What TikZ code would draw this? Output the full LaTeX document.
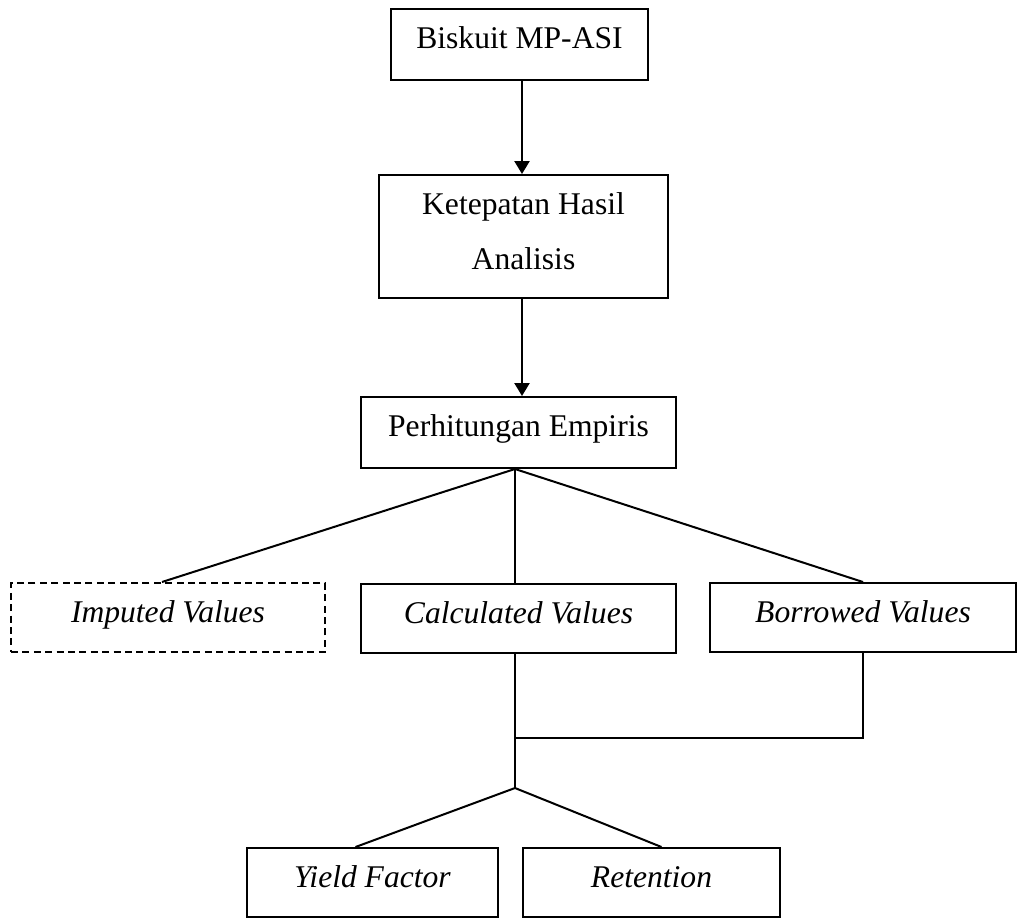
\documentclass[tikz,border=0pt]{standalone}
\usepackage{fontspec}
\setmainfont{Liberation Serif}
\usetikzlibrary{arrows.meta,positioning}

\begin{document}
\begin{tikzpicture}[x=0.5pt,y=-0.5pt,line width=1pt,
      font=\fontsize{15.8}{27.5}\selectfont,
      box/.style={draw,anchor=north,inner sep=0pt,align=center,text height=19.5pt,text depth=16pt},
      dbox/.style={box,dash pattern=on 3.5pt off 2.2pt},
      flow/.style={-{Triangle[length=6.5pt,width=7.5pt]},line width=1.2pt}]
    \useasboundingbox (0,0) rectangle (1017,918);
    \node[box,minimum width=128.5pt] (bis) at (519.5,8) {Biskuit MP-ASI};
    \node[box,minimum width=144.5pt,text height=47pt,text depth=14.5pt] (tep) at (523.5,174) {Ketepatan Hasil\\ Analisis};
    \node[box,minimum width=157.5pt] (emp) at (518.5,396) {Perhitungan Empiris};
    \node[dbox,minimum width=157pt,text depth=15pt] (imp) at (168,582) {\itshape Imputed Values};
    \node[box,minimum width=157.5pt,text depth=15pt] (cal) at (518.5,583) {\itshape Calculated Values};
    \node[box,minimum width=153pt,text depth=15pt] (bor) at (863,582) {\itshape Borrowed Values};
    \node[box,minimum width=125.5pt,text depth=15pt] (yie) at (372.5,847) {\itshape Yield Factor};
    \node[box,minimum width=128.5pt,text depth=15pt] (ret) at (651.5,847) {\itshape Retention};
    \coordinate (join) at (515,738);
    \coordinate (fork) at (515,788);
    % alur utama
    \draw[flow] ([xshift=1.25pt]bis.south) -- ([xshift=-0.75pt]tep.north);
    \draw[flow] ([xshift=-0.75pt]tep.south) -- ([xshift=1.75pt]emp.north);
    % cabang nilai
    \foreach \b/\s in {imp/-3pt,cal/-1.75pt,bor/0pt}
      \draw ([xshift=-1.75pt]emp.south) -- ([xshift=\s]\b.north);
    \draw ([xshift=-1.75pt]cal.south) -- (fork);
    \draw (bor.south) |- (join);
    \draw (fork) -- ([xshift=-8.5pt]yie.north);
    \draw (fork) -- ([xshift=5pt]ret.north);
\end{tikzpicture}
\end{document}
